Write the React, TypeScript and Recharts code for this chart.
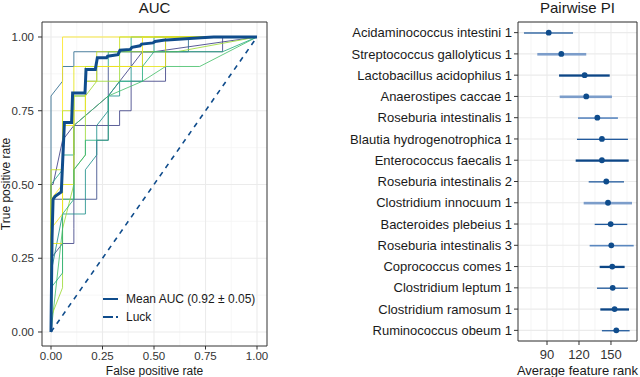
import {
  Bar,
  CartesianGrid,
  ComposedChart,
  Label,
  Line,
  LineChart,
  ReferenceArea,
  XAxis,
  YAxis,
} from "recharts";

// ---- ROC panel data ----
const rateTicks = [0, 0.25, 0.5, 0.75, 1];
const rateMinor = [0.125, 0.375, 0.625, 0.875];
const legendLabels = ["Mean AUC (0.92 ± 0.05)", "Luck"];

// one step curve per CV fold, [fpr, tpr]
const fold1 = [[0, 0], [0, 0.1], [0.01, 0.45], [0.222, 0.45], [0.222, 0.65], [0.278, 0.65], [0.278, 0.9], [0.389, 0.9], [0.389, 0.95], [0.556, 0.95], [0.556, 1], [1, 1]];
const fold2 = [[0, 0], [0, 0.25], [0.056, 0.3], [0.111, 0.3], [0.111, 0.35], [0.111, 0.7], [0.333, 0.7], [0.333, 0.75], [0.389, 0.75], [0.389, 0.85], [0.556, 0.85], [0.556, 0.95], [0.833, 0.95], [0.833, 1], [1, 1]];
const fold3 = [[0, 0], [0, 0.5], [0.01, 0.5], [0.056, 0.65], [0.111, 0.7], [0.278, 0.8], [0.389, 0.9], [0.444, 0.95], [0.5, 0.95], [1, 1]];
const fold4 = [[0, 0], [0, 0.8], [0.056, 0.85], [0.056, 0.9], [0.111, 0.9], [0.111, 0.95], [0.667, 0.95], [0.667, 1], [1, 1]];
const fold5 = [[0, 0], [0, 0.2], [0.056, 0.4], [0.167, 0.4], [0.167, 0.55], [0.222, 0.6], [0.222, 0.7], [0.278, 0.75], [0.278, 0.8], [0.333, 0.8], [0.333, 0.85], [0.389, 0.85], [0.389, 0.9], [0.444, 0.9], [0.444, 0.95], [0.5, 0.95], [0.5, 1], [1, 1]];
const fold6 = [[0, 0], [0, 0.5], [0.056, 0.55], [0.056, 0.6], [0.111, 0.6], [0.111, 0.8], [0.167, 0.8], [0.167, 0.85], [0.222, 0.85], [0.222, 0.9], [0.278, 0.9], [0.278, 0.95], [0.389, 0.95], [0.389, 1], [1, 1]];
const fold7 = [[0, 0], [0.056, 0.35], [0.056, 0.45], [0.111, 0.45], [0.111, 0.7], [0.278, 0.8], [0.444, 0.85], [0.556, 0.9], [0.722, 0.9], [1, 1]];
const fold8 = [[0, 0], [0, 0.05], [0.056, 0.15], [0.056, 0.35], [0.111, 0.5], [0.111, 0.55], [0.167, 0.6], [0.167, 0.8], [0.222, 0.85], [0.333, 0.85], [0.333, 0.95], [0.611, 0.95], [1, 1]];
const fold9 = [[0, 0], [0, 0.45], [0.056, 0.5], [0.056, 1], [1, 1]];
const fold10 = [[0, 0], [0, 0.3], [0.056, 0.3], [0.056, 0.5], [0.111, 0.5], [0.111, 0.9], [0.556, 0.9], [0.556, 1], [1, 1]];
const fold11 = [[0, 0], [0, 0.55], [0.056, 0.55], [0.056, 0.75], [0.111, 0.75], [0.111, 0.8], [0.167, 0.8], [0.167, 0.9], [0.222, 0.9], [0.222, 0.95], [0.333, 0.95], [0.333, 1], [1, 1]];
const fold12 = [[0, 0], [0, 0.35], [0.056, 0.4], [0.056, 0.7], [0.111, 0.7], [0.111, 0.75], [0.167, 0.75], [0.167, 0.85], [0.222, 0.85], [0.222, 0.9], [0.444, 0.9], [0.444, 1], [1, 1]];
const fold13 = [[0, 0], [0, 0.15], [0.056, 0.2], [0.056, 0.4], [0.111, 0.45], [0.111, 0.55], [0.167, 0.6], [0.167, 0.65], [0.278, 0.65], [0.278, 0.8], [0.333, 0.85], [0.444, 0.85], [0.444, 0.9], [0.5, 0.95], [0.833, 0.95], [1, 1]];

const meanRoc = [
  [0, 0], [0.005, 0.32], [0.01, 0.45], [0.02, 0.46], [0.05, 0.475], [0.065, 0.71],
  [0.1, 0.71], [0.105, 0.81], [0.165, 0.81], [0.17, 0.89], [0.215, 0.89], [0.225, 0.93],
  [0.27, 0.93], [0.275, 0.935], [0.325, 0.94], [0.335, 0.955], [0.385, 0.958],
  [0.393, 0.965], [0.432, 0.97], [0.44, 0.976], [0.495, 0.98], [0.505, 0.985],
  [0.553, 0.99], [0.563, 0.99], [0.728, 0.997], [0.79, 1], [1, 1],
];
const luck = [[0, 0], [1, 1]];

// ---- Pairwise PI panel data ----
const features = [
  "Acidaminococcus intestini 1",
  "Streptococcus gallolyticus 1",
  "Lactobacillus acidophilus 1",
  "Anaerostipes caccae 1",
  "Roseburia intestinalis 1",
  "Blautia hydrogenotrophica 1",
  "Enterococcus faecalis 1",
  "Roseburia intestinalis 2",
  "Clostridium innocuum 1",
  "Bacteroides plebeius 1",
  "Roseburia intestinalis 3",
  "Coprococcus comes 1",
  "Clostridium leptum 1",
  "Clostridium ramosum 1",
  "Ruminococcus obeum 1",
];
const rankMean = [91.6, 103.4, 125.3, 126.8, 137.2, 141.5, 141.5, 145.6, 147.2, 149.7, 150.3, 151.2, 151.6, 153.4, 155.0];
const rankLow = [68.4, 80.9, 101.3, 101.9, 119.1, 118.1, 116.9, 129.1, 124.4, 134.7, 130.0, 139.4, 136.9, 140.0, 141.5];
const rankHigh = [114.4, 126.8, 148.8, 150.9, 156.5, 165.9, 166.6, 162.2, 169.7, 165.3, 171.3, 162.8, 165.9, 166.9, 167.5];
const rankTicks = [90, 120, 150];
const rankMinor = [75, 105, 135, 165];

// ---- styles ----
const FONT = '"Liberation Sans", Arial, sans-serif';
const INK = "#1a1a1a";
const TICK_INK = "#333333";
const BORDER = "#333333";
const GRID = "#ebebeb";
const GRID_MINOR = "#f4f4f4";
const BLUE = "#0f4c8c";
const foldColors = [
  "#3B4C8A", "#414487", "#3E3F86", "#2F6B8E", "#21908C", "#1FA187", "#4AC16D",
  "#9FDA3A", "#FDE725", "#E4E419", "#C8E020", "#F2E51D", "#28AE80",
];
const folds = [fold1, fold2, fold3, fold4, fold5, fold6, fold7, fold8, fold9, fold10, fold11, fold12, fold13];

const X_DOM: [number, number] = [-0.0437, 1.0485];
const Y_DOM: [number, number] = [-0.0475, 1.0508];
const R_DOM: [number, number] = [62.8, 174.4];

const lineTone = ["mid", "pale", "dark", "pale", "soft", "mid", "dark", "mid", "pale", "mid", "soft", "dark", "mid", "dark", "mid"];
const toneStyle: Record<string, { color: string; w: number }> = {
  dark: { color: "#0c4686", w: 2.3 },
  mid: { color: "#20599c", w: 1.3 },
  soft: { color: "#5a87bf", w: 1.6 },
  pale: { color: "#7c9dca", w: 2.6 },
};

const toPts = (pairs: number[][]) => pairs.map(([fpr, tpr]) => ({ fpr, tpr }));

const rows = features.map((name, i) => ({
  name,
  rank: rankMean[i],
  range: [rankLow[i], rankHigh[i]],
  tone: lineTone[i],
}));

function Interval(props: any) {
  const { x, y, width, height, payload } = props;
  const s = toneStyle[payload?.tone ?? "mid"];
  const cy = y + height / 2;
  return <rect x={x} y={cy - s.w / 2} width={width} height={s.w} fill={s.color} />;
}

function RocPanel() {
  const tick = { fontSize: 11.5, fill: TICK_INK };
  return (
    <LineChart width={270} height={377} margin={{ top: 22, right: 3, left: 0, bottom: 0 }}>
      <CartesianGrid stroke={GRID_MINOR} strokeWidth={0.7} horizontalValues={rateMinor} verticalValues={rateMinor} />
      <CartesianGrid stroke={GRID} strokeWidth={1.1} horizontalValues={rateTicks} verticalValues={rateTicks} />
      <XAxis
        dataKey="fpr"
        type="number"
        domain={X_DOM}
        ticks={rateTicks}
        allowDataOverflow
        tickFormatter={(v) => v.toFixed(2)}
        axisLine={false}
        tickLine={{ stroke: BORDER }}
        tickSize={3.5}
        tickMargin={2.5}
        tick={tick}
        height={31}
      >
        <Label value="False positive rate" position="insideBottom" offset={2} style={{ fontSize: 12, fill: INK }} />
      </XAxis>
      <YAxis
        type="number"
        domain={Y_DOM}
        ticks={rateTicks}
        allowDataOverflow
        tickFormatter={(v) => v.toFixed(2)}
        axisLine={false}
        tickLine={{ stroke: BORDER }}
        tickSize={4}
        tickMargin={4}
        tick={tick}
        width={42}
      >
        <Label
          value="True positive rate"
          angle={-90}
          position="insideLeft"
          offset={6}
          style={{ fontSize: 12, fill: INK, textAnchor: "middle" }}
        />
      </YAxis>
      {folds.map((f, i) => (
        <Line
          key={i}
          data={toPts(f)}
          dataKey="tpr"
          type="linear"
          stroke={foldColors[i]}
          strokeOpacity={0.85}
          strokeWidth={1}
          dot={false}
          isAnimationActive={false}
        />
      ))}
      <Line data={toPts(luck)} dataKey="tpr" type="linear" stroke={BLUE} strokeWidth={1.6} strokeDasharray="5 5" dot={false} isAnimationActive={false} />
      <Line data={toPts(meanRoc)} dataKey="tpr" type="linear" stroke={BLUE} strokeWidth={3} dot={false} isAnimationActive={false} />
      <ReferenceArea x1={X_DOM[0]} x2={X_DOM[1]} y1={Y_DOM[0]} y2={Y_DOM[1]} fill="none" stroke={BORDER} strokeWidth={1} ifOverflow="visible" />
    </LineChart>
  );
}

function PiPanel() {
  return (
    <ComposedChart layout="vertical" width={310} height={377} data={rows} margin={{ top: 22, right: 3, left: 0, bottom: 0 }}>
      <CartesianGrid stroke={GRID_MINOR} strokeWidth={0.9} horizontal={false} verticalValues={rankMinor} />
      <CartesianGrid stroke={GRID} strokeWidth={1.1} verticalValues={rankTicks} />
      <XAxis
        type="number"
        domain={R_DOM}
        ticks={rankTicks}
        allowDataOverflow
        axisLine={false}
        tickLine={{ stroke: BORDER }}
        tickSize={4}
        tickMargin={5}
        tick={{ fontSize: 13, fill: TICK_INK }}
        height={36}
      >
        <Label value="Average feature rank" position="insideBottom" offset={2} style={{ fontSize: 13, fill: INK }} />
      </XAxis>
      <YAxis
        type="category"
        dataKey="name"
        width={188}
        interval={0}
        axisLine={false}
        tickLine={{ stroke: BORDER }}
        tickSize={4}
        tickMargin={2}
        tick={{ fontSize: 13, fill: INK }}
      />
      <Bar dataKey="range" barSize={4} shape={Interval} isAnimationActive={false} />
      <Line
        dataKey="rank"
        stroke="none"
        dot={{ r: 2.9, fill: BLUE, stroke: BLUE, strokeWidth: 0 }}
        activeDot={false}
        isAnimationActive={false}
      />
      <ReferenceArea x1={R_DOM[0]} x2={R_DOM[1]} fill="none" stroke={BORDER} strokeWidth={1} ifOverflow="visible" />
    </ComposedChart>
  );
}

function RocLegend() {
  return (
    <div style={{ position: "absolute", left: 103, top: 290, fontSize: 12, color: INK }}>
      {legendLabels.map((label, i) => (
        <div key={label} style={{ display: "flex", alignItems: "center", height: 18 }}>
          <svg width={23} height={6}>
            <line
              x1={0}
              x2={15}
              y1={3}
              y2={3}
              stroke={BLUE}
              strokeWidth={2}
              strokeDasharray={i === 1 ? "10 3" : undefined}
            />
          </svg>
          <span style={{ whiteSpace: "nowrap" }}>{label}</span>
        </div>
      ))}
    </div>
  );
}

export default function App() {
  return (
    <div
      style={{
        position: "absolute",
        left: 0,
        top: 0,
        width: 640,
        height: 377,
        overflow: "hidden",
        background: "#fff",
        fontFamily: FONT,
      }}
    >
      <div style={{ position: "absolute", left: 0, top: 0 }}>
        <RocPanel />
      </div>
      <div style={{ position: "absolute", left: 330, top: 0 }}>
        <PiPanel />
      </div>
      <RocLegend />
      <div style={{ position: "absolute", left: 42, width: 225, top: 0, textAlign: "center", fontSize: 15, lineHeight: "15px", color: INK }}>
        AUC
      </div>
      <div style={{ position: "absolute", left: 518, width: 119, top: 0, textAlign: "center", fontSize: 15, lineHeight: "15px", color: INK, whiteSpace: "nowrap" }}>
        Pairwise PI
      </div>
    </div>
  );
}
